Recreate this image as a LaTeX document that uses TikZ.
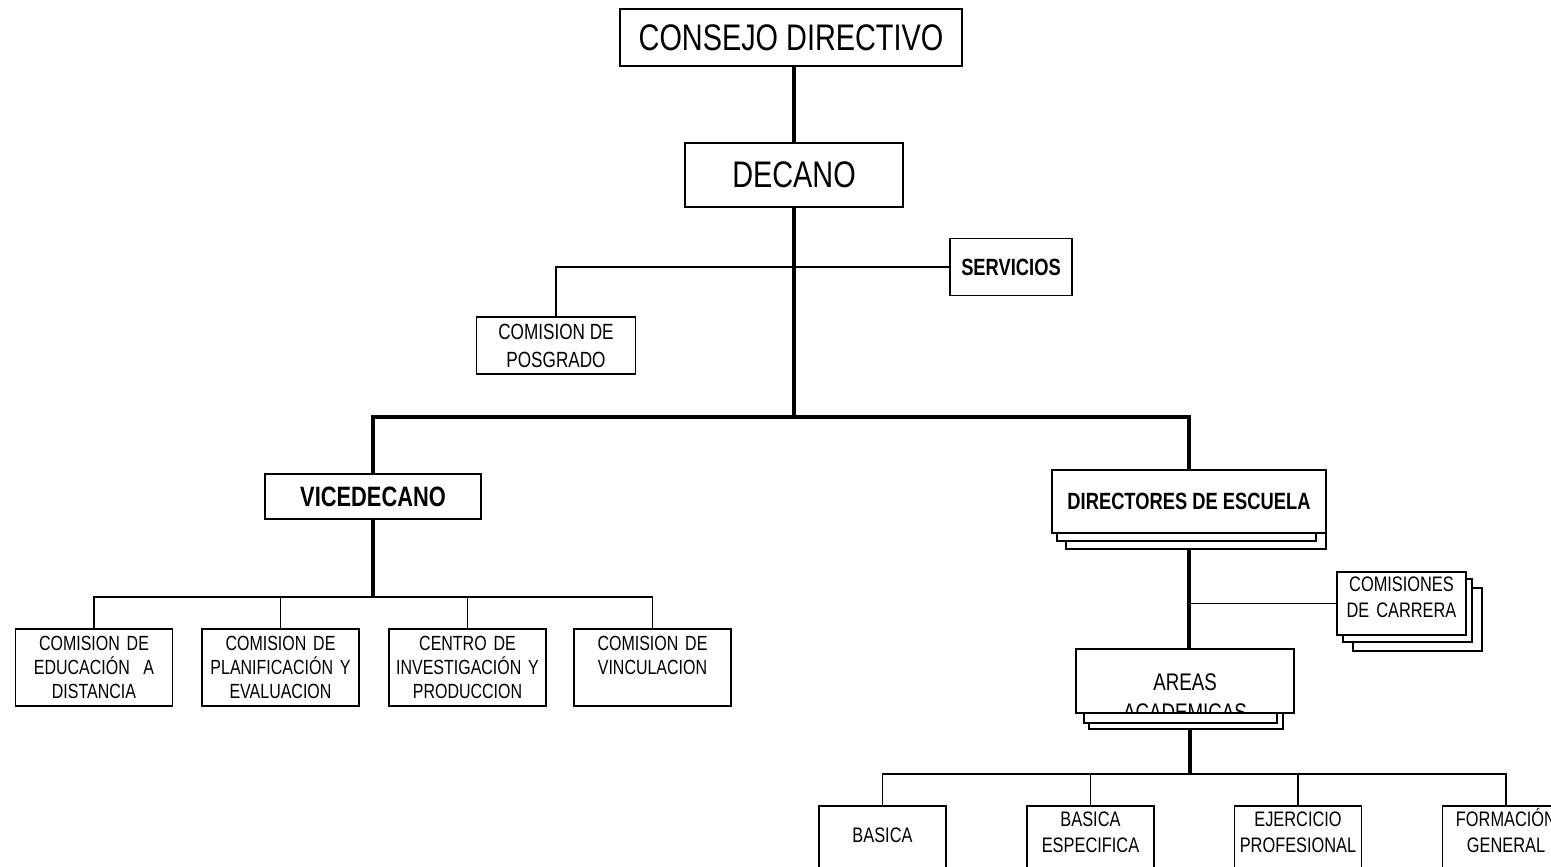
\documentclass[tikz,border=0pt]{standalone}
\usepackage{fontspec}
\setmainfont{Liberation Sans}[FakeStretch=0.78]
\usepackage{tikz}
\pgfdeclarelayer{bg}
\pgfsetlayers{bg,main}
\newcommand{\sz}[2]{\fontsize{#1}{#2}\selectfont}
\tikzstyle{orgbox} = [draw,line width=1.5pt,fill=white,inner sep=0pt,outer sep=0pt,align=center]
\tikzstyle{combox} = [orgbox,anchor=north,text width=157pt,text height=21.3pt,text depth=55.7pt,font=\sz{20.5}{24}]
\tikzstyle{areabox} = [orgbox,anchor=north,text width=127pt,text depth=70pt,font=\sz{21}{26}]
\tikzstyle{stackcopy} = [draw,line width=1.5pt,fill=white]
\tikzstyle{trunkline} = [line width=3.8pt]
\tikzstyle{branchline} = [line width=1.8pt]

\begin{document}
\begin{tikzpicture}[x=1pt,y=-1pt]
            \useasboundingbox (0,0) rectangle (1551,867);
            % upper part
            \node[orgbox,minimum width=342pt,minimum height=57pt,font=\sz{37}{40}] (consejo) at (791,37.5) {CONSEJO DIRECTIVO};
            \node[orgbox,minimum width=218pt,minimum height=64pt,font=\sz{37}{40}] (decano) at (794,175) {DECANO};
            \node[orgbox,minimum width=122pt,minimum height=57pt,font=\bfseries\sz{23.5}{26}] (serv) at (1011,267) {SERVICIOS};
            \node[orgbox,minimum width=159pt,minimum height=57pt,font=\sz{22}{28}] (posg) at (556,345.5) {COMISION DE\\POSGRADO};
            \node[orgbox,minimum width=216pt,minimum height=45pt,font=\bfseries\sz{28}{30}] (vice) at (373,496.5) {VICEDECANO};
            \node[orgbox,minimum width=274pt,minimum height=63pt,font=\bfseries\sz{23.5}{26}] (dir) at (1189,501.5) {DIRECTORES DE ESCUELA};
            % vicedecano
            \node[combox] (edu) at (94,629) {COMISION DE\\EDUCACIÓN~~A\\DISTANCIA};
            \node[combox] (plan) at (280.5,629) {COMISION DE\\PLANIFICACIÓN Y\\EVALUACION};
            \node[combox] (inv) at (467.5,629) {CENTRO DE\\INVESTIGACIÓN Y\\PRODUCCION};
            \node[combox] (vinc) at (652.5,629) {COMISION DE\\VINCULACION};
            % escuelas
            \node[orgbox,anchor=north west,text width=129pt,text height=19.5pt,text depth=43.5pt,font=\sz{21}{26}] (comcar) at (1337,572) {COMISIONES\\DE CARRERA};
            \node[orgbox,minimum width=218pt,minimum height=64pt,
                path picture={\node[draw=none,fill=none,anchor=north,text width=218pt,align=center,inner sep=0pt,text height=41pt,font=\sz{24}{30}] (areastxt) at (path picture bounding box.north) {AREAS\\ACADEMICAS};}] (areas) at (1185,681) {};
            \node[areabox,text height=36.5pt] (bas) at (882.5,806) {BASICA};
            \node[areabox,text height=20.5pt] (basesp) at (1090.5,806) {BASICA\\ESPECIFICA};
            \node[areabox,text height=20.5pt] (ejer) at (1298,806) {EJERCICIO\\PROFESIONAL};
            \node[areabox,text height=20.5pt] (form) at (1506,806) {FORMACIÓN\\GENERAL};
            \begin{pgfonlayer}{bg}
                \coordinate (jd) at (794,417);
                \coordinate (jv) at (373,597);
                \coordinate (ja) at (1190,774);
                % thin lines
                \draw[branchline] (serv.west) -| (posg.north);
                \draw[branchline] (edu.north) |- (jv) -| (vinc.north);
                \draw[branchline] (plan.north) -- (plan.north |- jv);
                \draw[branchline] (inv.north) -- (inv.north |- jv);
                \draw[branchline] (comcar.west) -- (comcar.west -| dir.south);
                \draw[branchline] (bas.north) |- (ja) -| (form.north);
                \draw[branchline] (basesp.north) -- (basesp.north |- ja);
                \draw[branchline] (ejer.north) -- (ejer.north |- ja);
                % thick lines
                \draw[trunkline] (decano.north) -- (decano.north |- consejo.south);
                \draw[trunkline] (decano.south) -- (jd);
                \draw[trunkline] (vice.north) |- (jd) -| (dir.north);
                \draw[trunkline] (vice.south) -- (vice.south |- jv);
                \draw[trunkline] (dir.south) -- (areas.north -| dir.south);
                \draw[trunkline] (areas.south -| ja) -- (ja);
                % stacked copies
                \draw[stackcopy] ([shift={(14,16)}]dir.north west) rectangle ([shift={(0,16)}]dir.south east);
                \draw[stackcopy] ([shift={(5,8)}]dir.north west) rectangle ([shift={(-10,8)}]dir.south east);
                \draw[stackcopy] ([shift={(16,16)}]comcar.north west) rectangle ([shift={(16,16)}]comcar.south east);
                \draw[stackcopy] ([shift={(6,7)}]comcar.north west) rectangle ([shift={(6,7)}]comcar.south east);
                \draw[stackcopy] ([shift={(13,16)}]areas.north west) rectangle ([shift={(-11,16)}]areas.south east);
                \draw[stackcopy] ([shift={(8,10)}]areas.north west) rectangle ([shift={(-17,10)}]areas.south east);
            \end{pgfonlayer}
        \end{tikzpicture}
\end{document}
